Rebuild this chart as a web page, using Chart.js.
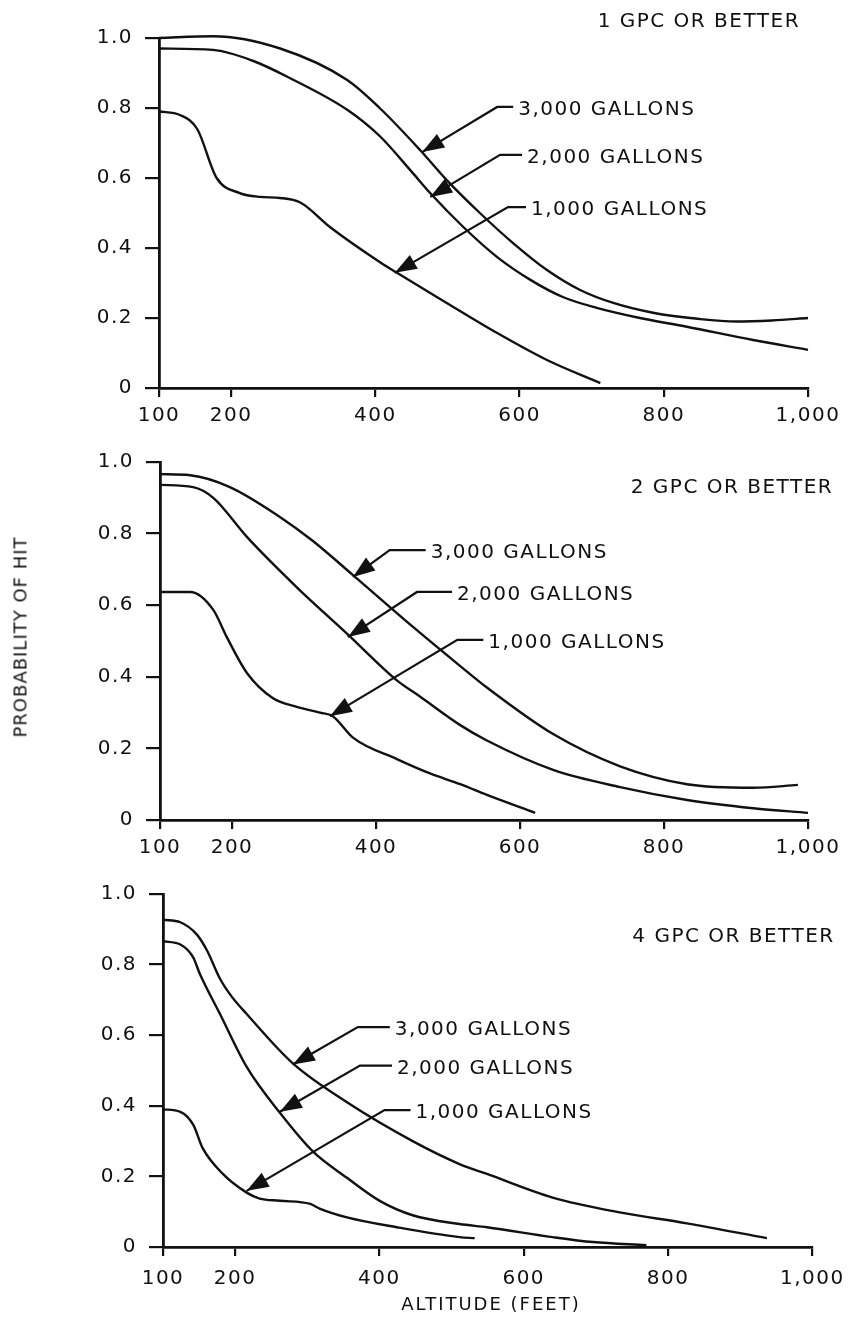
<!DOCTYPE html>
<html>
<head>
<meta charset="utf-8">
<script src="https://cdn.jsdelivr.net/npm/chart.js@4"></script>
<style>
	body { margin: 0; background: #fff; width: 852px; height: 1338px; position: relative; overflow: hidden; }
	canvas { position: absolute; left: 0; }
	.lbl { position: absolute; font-family: "DejaVu Sans", sans-serif; color: #111; white-space: nowrap; }
	#ylab { left: 20px; top: 637px; font-size: 18px; letter-spacing: 1px; transform: translate(-50%, -50%) rotate(-90deg); }
	#xlab { left: 491px; top: 1303px; font-size: 18px; letter-spacing: 2px; transform: translate(-50%, -50%); }
</style>
</head>
<body>
<canvas id="gpc1" width="852" height="430" style="top:0"></canvas>
<canvas id="gpc2" width="852" height="440" style="top:430px"></canvas>
<canvas id="gpc4" width="852" height="430" style="top:870px"></canvas>
<div class="lbl" id="ylab">PROBABILITY OF HIT</div>
<div class="lbl" id="xlab">ALTITUDE (FEET)</div>
<script>
// tick labels
const altitudeTicks = [ 100, 200, 400, 600, 800, 1000 ]
const probabilityTicks = [ 0, 0.2, 0.4, 0.6, 0.8, 1.0 ]

// 1 GPC or better : [altitude, probability]
const gpc1Gal3000 = [ [100, 1.0], [175, 1.005], [268, 0.97], [361, 0.88], [406, 0.80], [462, 0.68], [499, 0.594], [545, 0.50], [591, 0.414], [638, 0.337], [684, 0.28], [730, 0.243], [785, 0.215], [850, 0.197], [900, 0.19], [950, 0.193], [1000, 0.20] ]
const gpc1Gal2000 = [ [100, 0.97], [175, 0.966], [230, 0.935], [282, 0.885], [361, 0.795], [406, 0.72], [452, 0.614], [476, 0.557], [522, 0.46], [569, 0.374], [615, 0.309], [660, 0.26], [707, 0.229], [767, 0.20], [832, 0.175], [924, 0.137], [1000, 0.109] ]
const gpc1Gal1000 = [ [100, 0.79], [129, 0.78], [153, 0.74], [180, 0.60], [212, 0.557], [240, 0.546], [268, 0.543], [296, 0.53], [337, 0.46], [406, 0.36], [430, 0.329], [499, 0.243], [569, 0.157], [638, 0.08], [712, 0.014] ]

// 2 GPC or better
const gpc2Gal3000 = [ [100, 0.966], [142, 0.963], [197, 0.93], [267, 0.846], [312, 0.78], [368, 0.684], [451, 0.54], [517, 0.43], [554, 0.37], [646, 0.24], [739, 0.15], [832, 0.10], [924, 0.09], [986, 0.098] ]
const gpc2Gal2000 = [ [100, 0.936], [146, 0.93], [174, 0.90], [221, 0.79], [290, 0.65], [360, 0.52], [429, 0.39], [461, 0.345], [517, 0.265], [554, 0.222], [646, 0.14], [739, 0.092], [832, 0.056], [924, 0.033], [1000, 0.02] ]
const gpc2Gal1000 = [ [100, 0.637], [142, 0.637], [174, 0.587], [193, 0.51], [221, 0.41], [257, 0.34], [290, 0.316], [322, 0.30], [340, 0.29], [368, 0.23], [429, 0.17], [475, 0.13], [517, 0.10], [554, 0.07], [621, 0.02] ]

// 4 GPC or better
const gpc4Gal3000 = [ [100, 0.927], [124, 0.92], [147, 0.885], [161, 0.84], [179, 0.76], [195, 0.71], [216, 0.66], [280, 0.52], [355, 0.41], [446, 0.30], [511, 0.235], [549, 0.207], [640, 0.14], [733, 0.098], [826, 0.067], [937, 0.025] ]
const gpc4Gal2000 = [ [100, 0.866], [124, 0.857], [142, 0.82], [151, 0.774], [179, 0.66], [216, 0.51], [262, 0.38], [308, 0.27], [355, 0.196], [401, 0.13], [446, 0.09], [511, 0.065], [549, 0.056], [640, 0.028], [696, 0.014], [770, 0.005] ]
const gpc4Gal1000 = [ [100, 0.39], [124, 0.383], [142, 0.346], [155, 0.28], [183, 0.207], [216, 0.154], [234, 0.137], [262, 0.131], [304, 0.122], [317, 0.109], [355, 0.084], [424, 0.056], [511, 0.028], [532, 0.025] ]

const ink = '#111'
const font = '"DejaVu Sans", sans-serif'
const spacing = '1.5px'

// leader arrows + panel caption, placed in data units
const notesPlugin = (caption, captionAt, notes) => ({
	id: 'notes',
	beforeDraw: (chart) => {
		chart.ctx.letterSpacing = spacing
	},
	afterDraw: (chart) => {
		const { ctx, scales: { x, y } } = chart
		ctx.save()
		ctx.letterSpacing = spacing
		ctx.fillStyle = ink
		ctx.strokeStyle = ink
		ctx.lineWidth = 2.2
		ctx.font = '20px ' + font
		ctx.textBaseline = 'middle'
		ctx.textAlign = 'right'
		ctx.fillText( caption, x.getPixelForValue( captionAt[0] ), y.getPixelForValue( captionAt[1] ) )
		ctx.textAlign = 'left'
		notes.forEach( (n) => {
			const tx = x.getPixelForValue( n.tip[0] )
			const ty = y.getPixelForValue( n.tip[1] )
			const bx = x.getPixelForValue( n.bend[0] )
			const by = y.getPixelForValue( n.bend[1] )
			ctx.beginPath()
			ctx.moveTo( bx + n.run, by )
			ctx.lineTo( bx, by )
			ctx.lineTo( tx, ty )
			ctx.stroke()
			// arrow head
			const a = Math.atan2( ty - by, tx - bx )
			const len = 22, half = 8
			ctx.beginPath()
			ctx.moveTo( tx, ty )
			ctx.lineTo( tx - len * Math.cos( a ) + half * Math.sin( a ), ty - len * Math.sin( a ) - half * Math.cos( a ) )
			ctx.lineTo( tx - len * Math.cos( a ) - half * Math.sin( a ), ty - len * Math.sin( a ) + half * Math.cos( a ) )
			ctx.closePath()
			ctx.fill()
			ctx.fillText( n.text, bx + n.run + 5, by + 3 )
		} )
		ctx.restore()
	}
})

const line = (data) => ({
	data,
	borderColor: ink,
	borderWidth: 2.4,
	pointRadius: 0,
	cubicInterpolationMode: 'monotone',
	clip: 6
})

const panel = (id, series, area, caption, captionAt, notes) => {
	const canvas = document.getElementById( id )
	return new Chart( canvas, {
		type: 'line',
		data: { datasets: series.map( line ) },
		options: {
			responsive: false,
			animation: false,
			devicePixelRatio: 1,
			layout: { padding: { top: area.top, right: canvas.width - area.right, left: 0, bottom: 0 } },
			plugins: { legend: { display: false }, tooltip: { enabled: false } },
			scales: {
				x: {
					type: 'linear',
					min: 100,
					max: 1000,
					afterBuildTicks: (s) => { s.ticks = altitudeTicks.map( (v) => ({ value: v }) ) },
					afterFit: (s) => { s.height = canvas.height - area.bottom },
					ticks: {
						color: ink,
						font: { family: font, size: 20 },
						padding: area.tickPad,
						maxRotation: 0,
						callback: (v) => v.toLocaleString( 'en-US' )
					},
					grid: { drawOnChartArea: false, tickLength: 9, color: ink, lineWidth: 2.2 },
					border: { color: ink, width: 2.8 }
				},
				y: {
					min: 0,
					max: 1,
					afterBuildTicks: (s) => { s.ticks = probabilityTicks.map( (v) => ({ value: v }) ) },
					afterFit: (s) => { s.width = area.left },
					ticks: {
						color: ink,
						font: { family: font, size: 20 },
						padding: 12,
						callback: (v) => v === 0 ? '0' : v.toFixed( 1 )
					},
					grid: { drawOnChartArea: false, tickLength: 14, color: ink, lineWidth: 2.2 },
					border: { color: ink, width: 2.8 }
				}
			}
		},
		plugins: [ notesPlugin( caption, captionAt, notes ) ]
	} )
}

panel( 'gpc1', [ gpc1Gal3000, gpc1Gal2000, gpc1Gal1000 ],
	{ left: 159, right: 808, top: 38, bottom: 388, tickPad: 7 },
	'1 GPC OR BETTER', [ 989, 1.046 ], [
		{ text: '3,000 GALLONS', tip: [ 465, 0.674 ], bend: [ 569, 0.803 ], run: 16 },
		{ text: '2,000 GALLONS', tip: [ 476, 0.546 ], bend: [ 573, 0.666 ], run: 22 },
		{ text: '1,000 GALLONS', tip: [ 427, 0.329 ], bend: [ 584, 0.517 ], run: 18 }
	] )

panel( 'gpc2', [ gpc2Gal3000, gpc2Gal2000, gpc2Gal1000 ],
	{ left: 160, right: 808, top: 32, bottom: 390, tickPad: 7 },
	'2 GPC OR BETTER', [ 1035, 0.927 ], [
		{ text: '3,000 GALLONS', tip: [ 368, 0.679 ], bend: [ 419, 0.754 ], run: 36 },
		{ text: '2,000 GALLONS', tip: [ 361, 0.511 ], bend: [ 457, 0.637 ], run: 35 },
		{ text: '1,000 GALLONS', tip: [ 336, 0.29 ], bend: [ 513, 0.503 ], run: 26 }
	] )

panel( 'gpc4', [ gpc4Gal3000, gpc4Gal2000, gpc4Gal1000 ],
	{ left: 163, right: 813, top: 19, bottom: 377, tickPad: 11 },
	'4 GPC OR BETTER', [ 1031, 0.88 ], [
		{ text: '3,000 GALLONS', tip: [ 280, 0.517 ], bend: [ 370, 0.623 ], run: 32 },
		{ text: '2,000 GALLONS', tip: [ 262, 0.383 ], bend: [ 373, 0.514 ], run: 32 },
		{ text: '1,000 GALLONS', tip: [ 216, 0.159 ], bend: [ 407, 0.388 ], run: 26 }
	] )
</script>
</body>
</html>
